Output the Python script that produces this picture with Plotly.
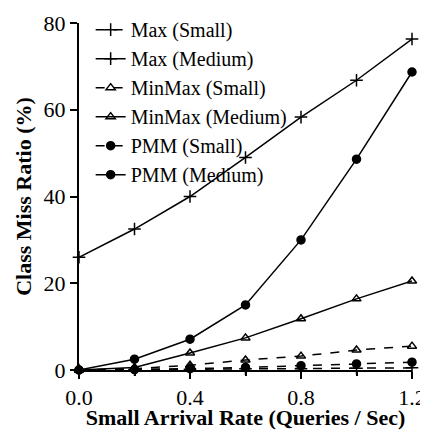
import plotly.graph_objects as go

x_vals = [0.0, 0.2, 0.4, 0.6, 0.8, 1.0, 1.2]
max_small = [0.0, 0.1, 0.2, 0.3, 0.3, 0.4, 0.5]
max_medium = [26.0, 32.5, 40.0, 49.0, 58.3, 66.8, 76.3]
minmax_small = [0.0, 0.3, 1.1, 2.3, 3.2, 4.6, 5.5]
minmax_medium = [0.0, 0.6, 3.9, 7.4, 11.8, 16.4, 20.5]
pmm_small = [0.0, 0.1, 0.3, 0.6, 1.0, 1.4, 1.8]
pmm_medium = [0.0, 2.5, 7.1, 15.0, 30.0, 48.6, 68.7]

series = [
    ("Max (Small)", max_small, "dash", "cross-thin", 9),
    ("Max (Medium)", max_medium, "solid", "cross-thin", 9),
    ("MinMax (Small)", minmax_small, "dash", "triangle-up-open", 8),
    ("MinMax (Medium)", minmax_medium, "solid", "triangle-up-open", 8),
    ("PMM (Small)", pmm_small, "dash", "circle", 8),
    ("PMM (Medium)", pmm_medium, "solid", "circle", 8),
]

fig = go.Figure()
for name, ys, dash, sym, size in series:
    fig.add_trace(go.Scatter(
        x=x_vals, y=ys, name=name, mode="lines+markers",
        line=dict(color="black", width=1.5, dash=dash),
        marker=dict(symbol=sym, size=size, color="black",
                    line=dict(color="black", width=1.5)),
        cliponaxis=False,
    ))

font = "Times New Roman"
fig.update_layout(
    width=420, height=422,
    margin=dict(l=71, r=16, t=15, b=60, autoexpand=False),
    paper_bgcolor="white", plot_bgcolor="white",
    font=dict(family=font, size=20, color="black"),
    showlegend=True,
    legend=dict(x=0.035, y=1.037, xanchor="left", yanchor="top",
                bgcolor="rgba(0,0,0,0)", font=dict(family=font, size=20)),
    xaxis=dict(range=[0, 1.2], tickvals=[0.0, 0.4, 0.8, 1.2],
               ticktext=["0.0", "0.4", "0.8", "1.2"],
               ticks="outside", ticklen=7, tickwidth=1.5, tickcolor="black",
               minor=dict(tickvals=[0.2, 0.6, 1.0], ticks="outside", ticklen=4,
                          tickwidth=1.5, tickcolor="black", showgrid=False),
               showline=True, linecolor="black", linewidth=2,
               showgrid=False, zeroline=False,
               tickfont=dict(family=font, size=22, color="black"),
               title=dict(text="<b>Small Arrival Rate (Queries / Sec)</b>",
                          font=dict(family=font, size=22, color="black"), standoff=2)),
    yaxis=dict(range=[0, 80], tickvals=[0, 20, 40, 60, 80],
               ticks="outside", ticklen=7, tickwidth=1.5, tickcolor="black",
               showline=True, linecolor="black", linewidth=2,
               showgrid=False, zeroline=False,
               tickfont=dict(family=font, size=22, color="black"),
               title=dict(text="<b>Class Miss Ratio (%)</b>",
                          font=dict(family=font, size=22, color="black"), standoff=6)),
)

legend_css = (
    "var s=document.createElement('style');"
    "s.innerHTML=\".legendtext{font-family:'Times New Roman',serif !important;}\";"
    "document.head.appendChild(s);"
)
fig.write_html("out.html", post_script=legend_css)
